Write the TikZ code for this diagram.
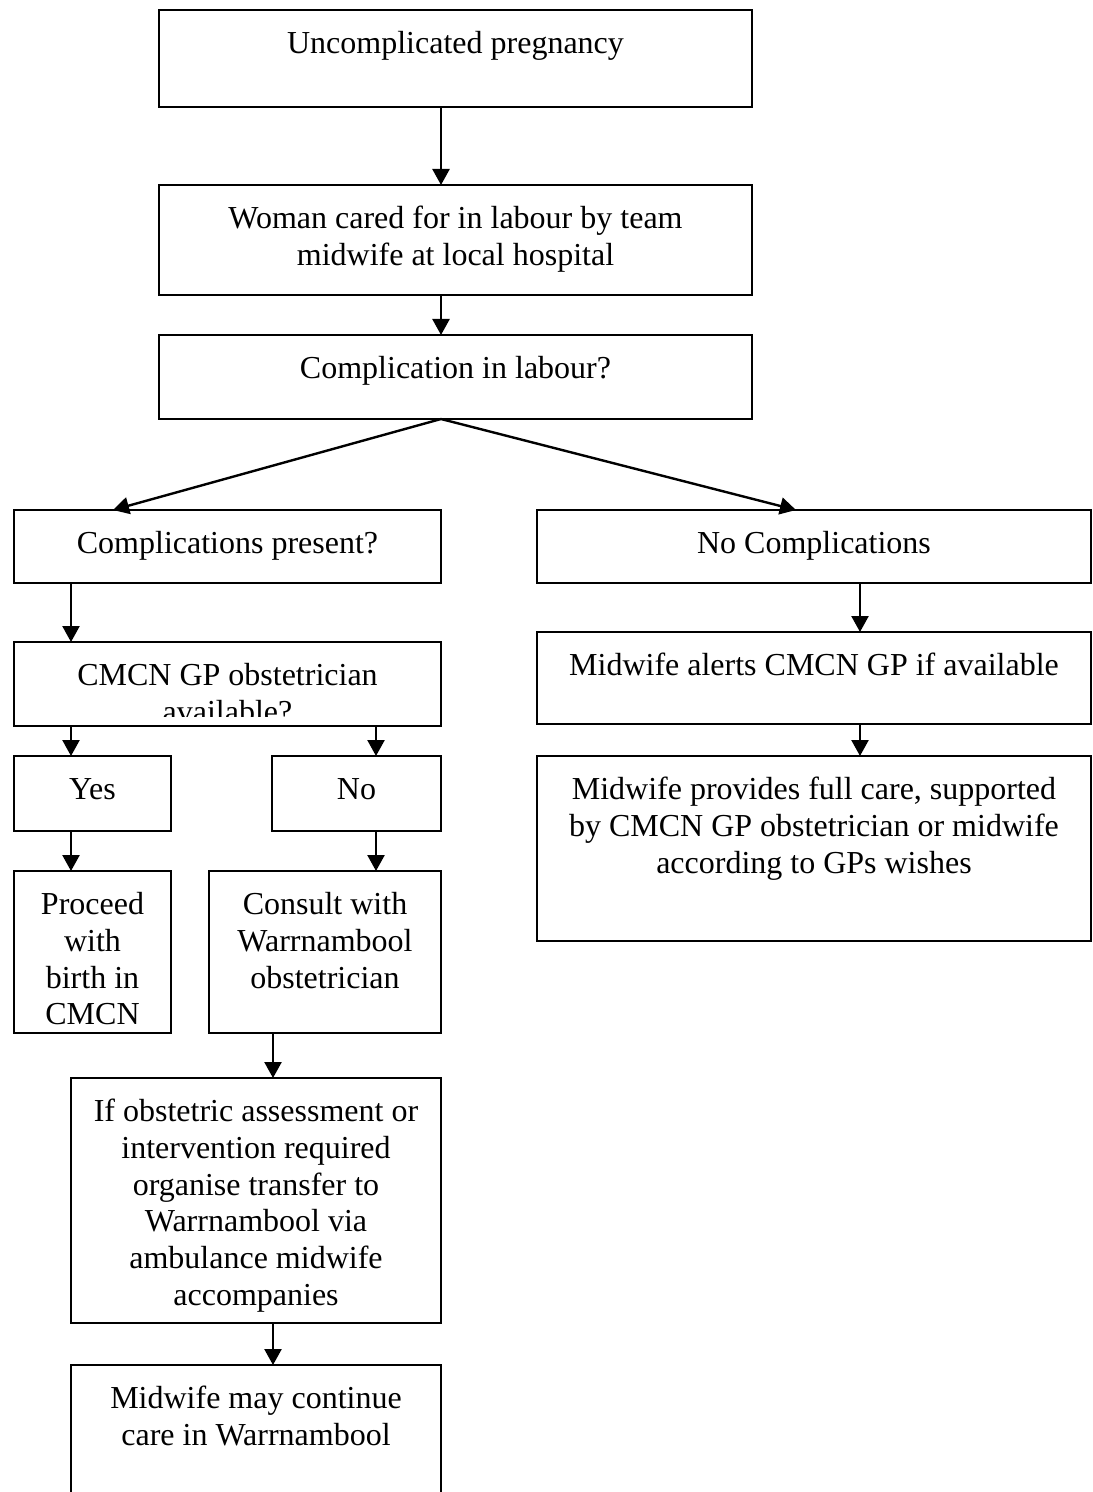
\documentclass[tikz,border=0pt]{standalone}
\usepackage{fontspec}
\setmainfont{Liberation Serif}
\usetikzlibrary{arrows.meta}
\newcommand\fl{\rule{0pt}{14pt}}
\begin{document}
\begin{tikzpicture}[x=0.5pt,y=-0.5pt,
  box/.style={draw=black, line width=1.1pt, rectangle, inner sep=0pt, outer sep=0pt, anchor=north west},
  txt/.style={anchor=north, inner sep=0pt, align=center, font=\fontsize{16}{18.4}\selectfont},
  arr/.style={draw=black, line width=1.2pt, -{Triangle[length=8pt,width=8.5pt]}}]
\useasboundingbox (0,0) rectangle (1092,1492);
\fill[white] (0,0) rectangle (1092,1492);

% boxes
\node[box, minimum width=296.5pt, minimum height=48.5pt] (b1) at (159,10) {};
\node[box, minimum width=296.5pt, minimum height=55pt] (b2) at (159,185) {};
\node[box, minimum width=296.5pt, minimum height=42pt] (b3) at (159,335) {};
\node[box, minimum width=213.5pt, minimum height=36.5pt] (b4) at (14,510) {};
\node[box, minimum width=277pt, minimum height=36.5pt] (b5) at (537,510) {};
\node[box, minimum width=213.5pt, minimum height=42pt] (b6) at (14,642) {};
\node[box, minimum width=277pt, minimum height=46pt] (b7) at (537,632) {};
\node[box, minimum width=78.5pt, minimum height=37.5pt] (b8) at (14,756) {};
\node[box, minimum width=84.5pt, minimum height=37.5pt] (b9) at (272,756) {};
\node[box, minimum width=277pt, minimum height=92.5pt] (b10) at (537,756) {};
\node[box, minimum width=78.5pt, minimum height=81pt] (b11) at (14,871) {};
\node[box, minimum width=116pt, minimum height=81pt] (b12) at (209,871) {};
\node[box, minimum width=185pt, minimum height=122.5pt] (b13) at (71,1078) {};
\node[box, minimum width=185pt, minimum height=70pt] (b14) at (71,1365) {};

% texts
\node[txt] (t1) at ([yshift=-7.5pt]b1.north) {\fl Uncomplicated pregnancy};
\node[txt] (t2) at ([yshift=-7.5pt]b2.north) {\fl Woman cared for in labour by team\\midwife at local hospital};
\node[txt] (t3) at ([yshift=-7.5pt]b3.north) {\fl Complication in labour?};
\node[txt] (t4) at ([yshift=-7.5pt]b4.north) {\fl Complications present?};
\node[txt] (t5) at ([yshift=-7.5pt]b5.north) {\fl No Complications};
\begin{scope}
\clip (14,642) rectangle (441,716);
\node[txt] (t6) at ([yshift=-7.5pt]b6.north) {\fl CMCN GP obstetrician\\available?};
\end{scope}
\node[txt] (t7) at ([yshift=-7.5pt]b7.north) {\fl Midwife alerts CMCN GP if available};
\node[txt] (t8) at ([yshift=-7.5pt]b8.north) {\fl Yes};
\node[txt] (t9) at ([yshift=-7.5pt]b9.north) {\fl No};
\node[txt] (t10) at ([yshift=-7.5pt]b10.north) {\fl Midwife provides full care, supported\\by CMCN GP obstetrician or midwife\\according to GPs wishes};
\node[txt] (t11) at ([yshift=-7.5pt]b11.north) {\fl Proceed\\with\\birth in\\CMCN};
\node[txt] (t12) at ([yshift=-7.5pt]b12.north) {\fl Consult with\\Warrnambool\\obstetrician};
\node[txt] (t13) at ([yshift=-7.5pt]b13.north) {\fl If obstetric assessment or\\intervention required\\organise transfer to\\Warrnambool via\\ambulance midwife\\accompanies};
\node[txt] (t14) at ([yshift=-7.5pt]b14.north) {\fl Midwife may continue\\care in Warrnambool};

% connector x positions
\coordinate (xa) at (441,0);
\coordinate (xl) at (113,0);
\coordinate (xr) at (796,0);
\coordinate (xy) at (71,0);
\coordinate (xn) at (376,0);
\coordinate (xw) at (860,0);
\coordinate (xc) at (273,0);

% connectors
\draw[arr] (b1.south -| xa) -- (b2.north -| xa);
\draw[arr] (b2.south -| xa) -- (b3.north -| xa);
\draw[arr] (b3.south -| xa) -- (b4.north -| xl);
\draw[arr] (b3.south -| xa) -- (b5.north -| xr);
\draw[arr] (b4.south -| xy) -- (b6.north -| xy);
\draw[arr] (b5.south -| xw) -- (b7.north -| xw);
\draw[arr] (b6.south -| xy) -- (b8.north -| xy);
\draw[arr] (b6.south -| xn) -- (b9.north -| xn);
\draw[arr] (b7.south -| xw) -- (b10.north -| xw);
\draw[arr] (b8.south -| xy) -- (b11.north -| xy);
\draw[arr] (b9.south -| xn) -- (b12.north -| xn);
\draw[arr] (b12.south -| xc) -- (b13.north -| xc);
\draw[arr] (b13.south -| xc) -- (b14.north -| xc);
\end{tikzpicture}
\end{document}
